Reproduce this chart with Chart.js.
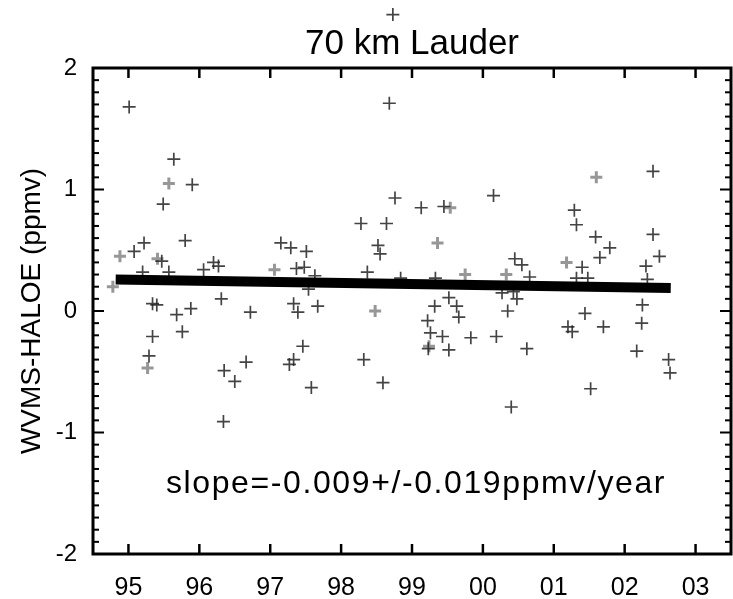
<!DOCTYPE html>
<html>
<head>
<meta charset="utf-8">
<title>70 km Lauder</title>
<script src="https://cdn.jsdelivr.net/npm/chart.js@4.4.1/dist/chart.umd.min.js"></script>
<style>
  html, body { margin: 0; padding: 0; background: #fff; overflow: hidden; }
  /* a bit wider than the window: the right frame edge sits just off the picture */
  #wrap { position: relative; width: 740px; height: 599px; }
</style>
</head>
<body>
<div id="wrap"><canvas id="lauderChart"></canvas></div>
<script>
// WVMS minus HALOE at 70 km, Lauder (x = year, 95..103 -> 1995..2003)
const obsYears = [
  95.01, 95.08, 95.20, 95.22, 95.29, 95.34, 95.34, 95.40, 95.47, 95.49,
  95.57, 95.64, 95.68, 95.76, 95.80, 95.88, 95.90, 96.06, 96.20, 96.27,
  96.31, 96.34, 96.35, 96.50, 96.66, 96.72, 97.15, 97.27, 97.29, 97.33,
  97.33, 97.37, 97.39, 97.46, 97.48, 97.51, 97.54, 97.58, 97.63, 97.67,
  98.28, 98.32, 98.37, 98.52, 98.55, 98.59, 98.64, 98.68, 98.73, 98.76,
  98.84, 99.13, 99.22, 99.23, 99.26, 99.32, 99.33, 99.43, 99.45, 99.52,
  99.52, 99.63, 99.66, 99.83, 100.15, 100.19, 100.27, 100.35, 100.40, 100.43,
  100.45, 100.48, 100.55, 100.62, 100.66, 101.20, 101.26, 101.29, 101.32, 101.32,
  101.40, 101.44, 101.48, 101.52, 101.59, 101.65, 101.70, 101.79, 102.17, 102.24,
  102.25, 102.30, 102.32, 102.40, 102.40, 102.49, 102.62, 102.64
];
const obsDiffs = [
  1.68, 0.49, 0.32, 0.56, -0.37, 0.06, -0.21, 0.05, 0.41, 0.88,
  0.32, 1.25, -0.03, -0.17, 0.58, 0.02, 1.04, 0.34, 0.40, 0.37,
  0.10, -0.91, -0.49, -0.58, -0.42, -0.01, 0.56, -0.44, 0.52, 0.06,
  -0.40, 0.35, -0.01, -0.29, 0.36, 0.49, 0.18, -0.63, 0.29, 0.04,
  0.72, -0.40, 0.32, 0.54, 0.47, -0.59, 0.72, 1.71, 2.44, 0.93,
  0.27, 0.85, -0.08, -0.31, -0.18, 0.04, 0.27, -0.21, 0.86, 0.11,
  -0.32, 0.04, -0.05, -0.22, 0.95, -0.21, 0.15, 0.00, -0.79, 0.16,
  0.43, 0.10, 0.38, -0.31, 0.28, -0.13, -0.17, 0.83, 0.71, 0.27,
  0.36, -0.02, 0.27, -0.64, 0.61, 0.44, -0.13, 0.52, -0.33, -0.10,
  0.05, 0.37, 0.26, 1.15, 0.63, 0.45, -0.40, -0.51
];
// the paler, smudged crosses
const paleYears = [94.78, 94.88, 95.27, 95.41, 95.57, 97.06, 98.48, 99.24, 99.36, 99.54, 99.75, 100.33, 101.18, 101.60];
const paleDiffs = [0.20, 0.45, -0.47, 0.43, 1.05, 0.34, 0.00, -0.29, 0.56, 0.85, 0.30, 0.30, 0.40, 1.10];

// linear fit
const trendYears = [94.82, 102.65];
const trendDiffs = [0.26, 0.19];

const yearTicks = [95, 96, 97, 98, 99, 100, 101, 102, 103];
const yearLabels = ['95', '96', '97', '98', '99', '00', '01', '02', '03'];
const diffTicks = [-2, -1, 0, 1, 2];
const slopeText = 'slope=-0.009+/-0.019ppmv/year';

function toXY(xs, ys) {
  return xs.map((v, i) => ({ x: v, y: ys[i] }));
}

// IDL style frame: box with inward ticks, minor ticks on the y sides
const idlFrame = {
  id: 'idlFrame',
  afterDatasetsDraw(chart) {
    // points above the frame (the one over the title) are skipped by the
    // controller, so draw those elements again without the area test
    const meta = chart.getDatasetMeta(1);
    const yMax = chart.scales.y.max;
    meta.data.forEach((el, i) => {
      if (obsDiffs[i] > yMax) el.draw(chart.ctx);
    });
  },
  afterDraw(chart) {
    const { ctx, chartArea: a, scales: { x, y } } = chart;
    const seg = (x1, y1, x2, y2) => { ctx.beginPath(); ctx.moveTo(x1, y1); ctx.lineTo(x2, y2); ctx.stroke(); };
    ctx.save();
    ctx.strokeStyle = '#000';
    ctx.lineWidth = 3;
    ctx.strokeRect(a.left, a.top, a.right - a.left, a.bottom - a.top);

    ctx.lineWidth = 2.5;
    yearTicks.forEach(v => {
      const px = x.getPixelForValue(v);
      seg(px, a.top, px, a.top + 10);
      seg(px, a.bottom, px, a.bottom - 10);
    });

    ctx.lineWidth = 2;
    for (let i = -20; i <= 20; i++) {
      const py = y.getPixelForValue(i / 10);
      const len = i % 10 === 0 ? 11 : 6;
      seg(a.left, py, a.left + len, py);
      seg(a.right, py, a.right - len, py);
    }

    ctx.fillStyle = '#000';
    ctx.font = '32px "Liberation Sans", Arial, sans-serif';
    ctx.letterSpacing = '1.6px';
    ctx.textBaseline = 'alphabetic';
    ctx.fillText(slopeText, x.getPixelForValue(95.53), y.getPixelForValue(-1.5));
    ctx.restore();
  }
};

Chart.defaults.font.family = '"Liberation Sans", Arial, sans-serif';
Chart.defaults.color = '#000';

const ctx = document.getElementById('lauderChart').getContext('2d');

const chart = new Chart(ctx, {
  type: 'scatter',
  data: {
    datasets: [
      {
        label: 'fit',
        type: 'line',
        data: toXY(trendYears, trendDiffs),
        borderColor: '#000',
        borderWidth: 10,
        borderCapStyle: 'butt',
        pointRadius: 0,
        order: 0
      },
      {
        label: 'WVMS-HALOE',
        data: toXY(obsYears, obsDiffs),
        pointStyle: 'cross',
        pointRadius: 6.5,
        borderColor: 'rgba(35,35,35,0.85)',
        borderWidth: 1.7,
        clip: false,
        order: 1
      },
      {
        label: 'WVMS-HALOE pale',
        data: toXY(paleYears, paleDiffs),
        pointStyle: 'cross',
        pointRadius: 6,
        borderColor: 'rgba(125,125,125,0.8)',
        borderWidth: 3,
        order: 2
      }
    ]
  },
  options: {
    responsive: true,
    maintainAspectRatio: false,
    animation: false,
    events: [],
    layout: { padding: { left: 0, right: 5, top: 0, bottom: 0 } },
    plugins: {
      legend: { display: false },
      tooltip: { enabled: false },
      title: {
        display: true,
        text: '70 km Lauder',
        fullSize: false,
        color: '#000',
        font: { size: 35, weight: 'normal' },
        padding: { top: 23, bottom: 3 }
      }
    },
    scales: {
      x: {
        type: 'linear',
        min: 94.5,
        max: 103.5,
        afterBuildTicks: s => { s.ticks = yearTicks.map(v => ({ value: v })); },
        afterFit: s => { s.height = 45; },
        ticks: {
          callback: v => yearLabels[yearTicks.indexOf(v)],
          font: { size: 25 },
          padding: 11,
          maxRotation: 0,
          autoSkip: false
        },
        grid: { display: false },
        border: { display: false }
      },
      y: {
        type: 'linear',
        min: -2,
        max: 2,
        afterBuildTicks: s => { s.ticks = diffTicks.map(v => ({ value: v })); },
        afterFit: s => { s.width = 93; },
        ticks: {
          font: { size: 24 },
          padding: 8
        },
        title: {
          display: true,
          text: 'WVMS-HALOE (ppmv)',
          font: { size: 28 },
          padding: { top: 15, bottom: 0 }
        },
        grid: { display: false },
        border: { display: false }
      }
    }
  },
  plugins: [idlFrame]
});
</script>
</body>
</html>
